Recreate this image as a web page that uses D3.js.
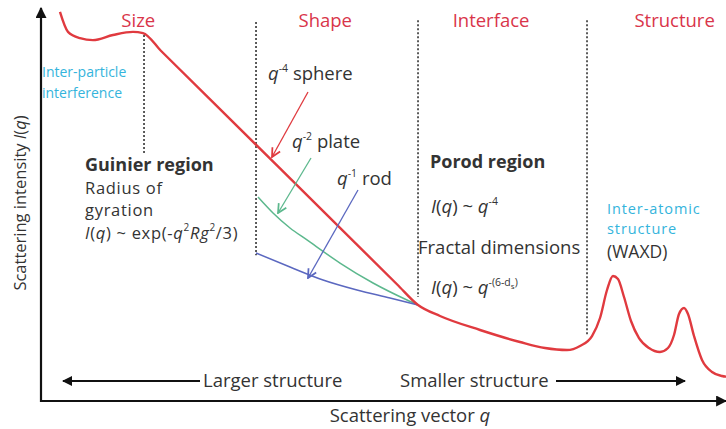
<!DOCTYPE html>
<html><head><meta charset="utf-8">
<script src="https://cdn.jsdelivr.net/npm/d3@7"></script>
<style>
html,body{margin:0;padding:0;background:#fff;}
svg{display:block;font-family:"Open Sans",sans-serif;}
</style></head>
<body>
<svg id="c" width="726" height="429"></svg>
<script>
// ---- data (abstract units: q 0..10, I 0..10) ----
const mainQ = [0.277,0.394,0.569,0.759,1.051,1.343,1.489,1.75,3.489,5.2,5.504,5.825,6.409,6.993,7.358,7.679,7.869,8.044,8.161,8.263,8.350,8.423,8.511,8.613,8.730,8.876,9.036,9.153,9.241,9.314,9.387,9.445,9.533,9.650,9.796,9.942,10.058];
const mainI = [9.95,9.44,9.28,9.23,9.36,9.44,9.41,8.958,5.948,2.98,2.455,2.174,1.816,1.509,1.355,1.304,1.407,1.662,2.123,2.839,3.197,3.120,2.660,2.046,1.611,1.355,1.253,1.355,1.688,2.225,2.379,2.225,1.662,1.049,0.742,0.639,0.614];
const plateQ = [3.168,3.387,3.635,3.883,4.365,4.847,5.343,5.504];
const plateI = [5.217,4.808,4.425,4.118,3.529,3.018,2.583,2.455];
const rodQ = [3.139,3.635,4.117,4.613,5.095,5.504];
const rodI = [3.785,3.427,3.095,2.839,2.634,2.455];
const dividerQ = [1.504,3.139,5.504,7.971];
const dividerTop = [9.36,9.69,9.74,9.74];
const dividerBottom = [6.34,3.73,2.66,1.66];
const regionNames = ["Size","Shape","Interface","Structure"];
const regionCenterQ = [1.42,4.15,6.57,9.25];

const svg = d3.select("#c");
const x = d3.scaleLinear().domain([0,10]).range([41,726]);
const y = d3.scaleLinear().domain([0,10]).range([401,10]);

const TXT = "#333", RED = "#e03a3f", GREEN = "#5cb88d", BLUE = "#5b68c0", CYAN = "#34b4dc", HEAD = "#d9354a";
const FS = 18.5;

const defs = svg.append("defs");
function marker(id, color, filled, size){
  const m = defs.append("marker").attr("id",id).attr("viewBox","0 0 10 10")
    .attr("refX",9).attr("refY",5).attr("markerWidth",size).attr("markerHeight",size)
    .attr("markerUnits","userSpaceOnUse").attr("orient","auto");
  if(filled) m.append("path").attr("d","M0,0 L10,5 L0,10 Z").attr("fill",color);
  else m.append("path").attr("d","M1,1 L9,5 L1,9").attr("fill","none").attr("stroke",color).attr("stroke-width",1.6);
}
marker("axArr","#111",true,11);
marker("bArr","#111",true,10);
marker("rArr",RED,false,11);
marker("gArr",GREEN,false,11);
marker("blArr",BLUE,false,11);

// axes
svg.append("line").attr("x1",x(0)).attr("x2",x(0)).attr("y1",y(0)+1).attr("y2",y(10)-2)
  .attr("stroke","#111").attr("stroke-width",2.2).attr("marker-end","url(#axArr)");
svg.append("line").attr("x1",x(0)-1).attr("x2",726).attr("y1",y(0)).attr("y2",y(0))
  .attr("stroke","#111").attr("stroke-width",2.2).attr("marker-end","url(#axArr)");

// dividers
svg.selectAll("line.div").data(dividerQ).join("line").attr("class","div")
  .attr("x1",d=>x(d)).attr("x2",d=>x(d))
  .attr("y1",(d,i)=>y(dividerTop[i])).attr("y2",(d,i)=>y(dividerBottom[i]))
  .attr("stroke","#333").attr("stroke-width",1.6).attr("stroke-dasharray","2,2");

// region headers
svg.selectAll("text.head").data(regionNames).join("text").attr("class","head")
  .attr("x",(d,i)=>x(regionCenterQ[i])).attr("y",27).attr("text-anchor","middle")
  .attr("font-size",18.5).attr("fill",HEAD).text(d=>d);

const line = d3.line().x(d=>x(d[0])).y(d=>y(d[1])).curve(d3.curveMonotoneX);
const zip = (a,b)=>a.map((v,i)=>[v,b[i]]);
svg.append("path").attr("d",line(zip(plateQ,plateI))).attr("fill","none").attr("stroke",GREEN).attr("stroke-width",1.5);
svg.append("path").attr("d",line(zip(rodQ,rodI))).attr("fill","none").attr("stroke",BLUE).attr("stroke-width",1.5);
svg.append("path").attr("d",line(zip(mainQ,mainI))).attr("fill","none").attr("stroke",RED).attr("stroke-width",2.4);

// annotation arrows
function arrow(x1,y1,x2,y2,c,m){
  svg.append("line").attr("x1",x1).attr("y1",y1).attr("x2",x2).attr("y2",y2)
    .attr("stroke",c).attr("stroke-width",1.3).attr("marker-end",`url(#${m})`);
}
arrow(308,92,272,157,RED,"rArr");
arrow(311,158,278,213,GREEN,"gArr");
arrow(358,190,308,278,BLUE,"blArr");

// parts: {t, i (italic), sup, fs, dy}
function rich(xp,yp,parts,opts={}){
  const t = svg.append("text").attr("x",xp).attr("y",yp).attr("font-size",opts.size||FS)
    .attr("fill",opts.fill||TXT);
  if(opts.weight) t.attr("font-weight",opts.weight);
  if(opts.ls) t.attr("letter-spacing",opts.ls);
  parts.forEach(p=>{
    const s = t.append("tspan").text(p.t);
    if(p.i) s.attr("font-style","italic");
    if(p.sup){ s.attr("font-size",p.fs||10.5).attr("dy",p.dy!==undefined?p.dy:-8); }
    if(p.dy!==undefined && !p.sup) s.attr("dy",p.dy);
    if(p.fs && !p.sup) s.attr("font-size",p.fs);
  });
  return t;
}

// shape labels
rich(268,80,[{t:"q",i:true},{t:"-4",sup:true},{t:" sphere",dy:8}]);
rich(292,148,[{t:"q",i:true},{t:"-2",sup:true},{t:" plate",dy:8}]);
rich(337,185,[{t:"q",i:true},{t:"-1",sup:true},{t:" rod",dy:8}]);

// cyan texts
rich(42,77,[{t:"Inter-particle"}],{fill:CYAN,size:14});
rich(42,98,[{t:"interference"}],{fill:CYAN,size:14});
rich(607,214,[{t:"Inter-atomic"}],{fill:CYAN,size:14.5,ls:0.9});
rich(607,234,[{t:"structure"}],{fill:CYAN,size:14.5,ls:0.9});
rich(607,257.5,[{t:"(WAXD)"}],{size:17.5});

// Guinier
const GS = 16.5, GLS = 0.7;
rich(85,170.5,[{t:"Guinier region"}],{weight:"bold",size:18});
rich(85,193.5,[{t:"Radius of"}],{size:GS,ls:GLS});
rich(85,216,[{t:"gyration"}],{size:GS,ls:GLS});
rich(85,238.5,[{t:"I",i:true},{t:"("},{t:"q",i:true},{t:") ~ exp(-"},{t:"q",i:true},{t:"2",sup:true,fs:10},{t:"Rg",i:true,dy:8},{t:"2",sup:true,fs:10},{t:"/3)",dy:8}],{size:GS,ls:GLS});

// Porod
rich(430,168,[{t:"Porod region"}],{weight:"bold",size:18});
rich(431,213,[{t:"I",i:true},{t:"("},{t:"q",i:true},{t:") ~ "},{t:"q",i:true},{t:"-4",sup:true}]);
rich(418,254,[{t:"Fractal dimensions"}]);
rich(431,294,[{t:"I",i:true},{t:"("},{t:"q",i:true},{t:") ~ "},{t:"q",i:true},{t:"-(6-d",sup:true},{t:"s",sup:true,dy:3,fs:8},{t:")",sup:true,dy:-3}]);

// bottom direction arrows
const ay = 381;
svg.append("line").attr("x1",200).attr("x2",63).attr("y1",ay).attr("y2",ay)
  .attr("stroke","#111").attr("stroke-width",2).attr("marker-end","url(#bArr)");
svg.append("line").attr("x1",556).attr("x2",685).attr("y1",ay).attr("y2",ay)
  .attr("stroke","#111").attr("stroke-width",2).attr("marker-end","url(#bArr)");
rich(203,387,[{t:"Larger structure"}]);
rich(400,387,[{t:"Smaller structure"}]);

// axis titles
rich(410,422,[{t:"Scattering vector "},{t:"q",i:true}],{size:18.5}).attr("text-anchor","middle");
svg.append("text").attr("transform","translate(26,203) rotate(-90)").attr("text-anchor","middle")
  .attr("font-size",16.5).attr("fill",TXT)
  .call(t=>{t.append("tspan").text("Scattering intensity ");t.append("tspan").attr("font-style","italic").text("I");t.append("tspan").text("(");t.append("tspan").attr("font-style","italic").text("q");t.append("tspan").text(")");});
</script>
</body></html>
